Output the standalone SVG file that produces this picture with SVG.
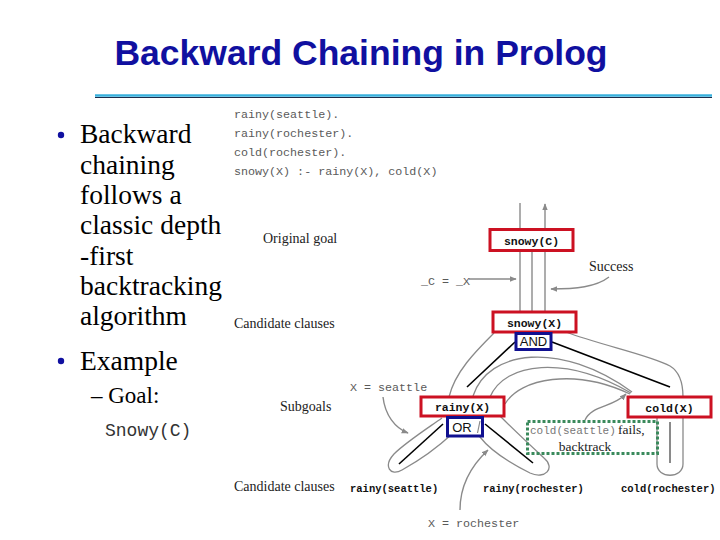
<svg xmlns="http://www.w3.org/2000/svg" width="720" height="540" viewBox="0 0 720 540">
<defs>
<marker id="ah" viewBox="0 0 10 10" refX="9" refY="5" markerWidth="7" markerHeight="7" orient="auto-start-reverse" markerUnits="userSpaceOnUse">
<path d="M0,1 L10,5 L0,9 Z" fill="#8a8a8a"/>
</marker>
<style>
.title{font-family:"Liberation Sans",Arial,sans-serif;font-weight:bold;font-size:35.5px;fill:#1010a0}
.bul{font-family:"Liberation Serif","Times New Roman",serif;font-size:27.5px;fill:#000}
.sub{font-family:"Liberation Serif","Times New Roman",serif;font-size:23px;fill:#000}
.code{font-family:"Liberation Mono","Courier New",monospace;font-size:11.7px;fill:#5a5a5a}
.lbl{font-family:"Liberation Serif","Times New Roman",serif;font-size:14px;fill:#222}
.tt{font-family:"Liberation Mono","Courier New",monospace;font-weight:bold;font-size:11.5px;fill:#111}
.cl{font-family:"Liberation Mono","Courier New",monospace;font-weight:bold;font-size:10.5px;fill:#111}
.redbox{fill:#fff;stroke:#cc1122;stroke-width:3}
.bluebox{fill:#fff;stroke:#101090;stroke-width:3}
.op{font-family:"Liberation Sans",Arial,sans-serif;font-size:13px;fill:#111}
.trace{fill:none;stroke:#8a8a8a;stroke-width:1.3}
.edge{fill:none;stroke:#000;stroke-width:1.6}
.arr{fill:none;stroke:#8a8a8a;stroke-width:1.4}
</style>
</defs>
<rect width="720" height="540" fill="#fff"/>

<g id="title">
<text class="title" x="361" y="65" text-anchor="middle">Backward Chaining in Prolog</text>
<line x1="95" y1="95.5" x2="712" y2="95.5" stroke="#38b0dc" stroke-width="2.5"/>
<line x1="95" y1="97.5" x2="712" y2="97.5" stroke="#1c2c4c" stroke-width="1"/>
</g>

<g id="bullets">
<circle cx="61" cy="135" r="3.2" fill="#1010a0"/>
<text class="bul" x="80" y="143">Backward</text>
<text class="bul" x="80" y="174">chaining</text>
<text class="bul" x="80" y="204">follows a</text>
<text class="bul" x="80" y="234">classic depth</text>
<text class="bul" x="80" y="265">-first</text>
<text class="bul" x="80" y="295">backtracking</text>
<text class="bul" x="80" y="325">algorithm</text>
<circle cx="61" cy="361" r="3.2" fill="#1010a0"/>
<text class="bul" x="80" y="370">Example</text>
<text class="sub" x="91" y="403">– Goal:</text>
<text x="105" y="436" style="font-family:'Liberation Mono','Courier New',monospace;font-size:18px;fill:#333">Snowy(C)</text>
</g>

<g id="program">
<text class="code" x="234" y="118">rainy(seattle).</text>
<text class="code" x="234" y="137">rainy(rochester).</text>
<text class="code" x="234" y="156">cold(rochester).</text>
<text class="code" x="234" y="175">snowy(X) :- rainy(X), cold(X)</text>
</g>

<g id="row-labels">
<text class="lbl" x="263" y="243">Original goal</text>
<text class="lbl" x="234" y="328">Candidate clauses</text>
<text class="lbl" x="280" y="411">Subgoals</text>
<text class="lbl" x="234" y="491">Candidate clauses</text>
<text class="lbl" x="589" y="271">Success</text>
</g>

<g id="connectors">
<line class="arr" x1="520" y1="203" x2="520" y2="229"/>
<line class="arr" x1="545" y1="229" x2="545" y2="204" marker-end="url(#ah)"/>
<line class="arr" x1="520" y1="251" x2="520" y2="312"/>
<line class="arr" x1="532" y1="251" x2="532" y2="312"/>
<line class="arr" x1="545" y1="251" x2="545" y2="312"/>
<line class="arr" x1="469" y1="279" x2="516" y2="279" marker-end="url(#ah)"/>
<path class="arr" d="M609,277 C596,287 576,289 551,289" marker-end="url(#ah)"/>

<path class="trace" d="M494,333 C475,352 455,372 449,397"/>
<path class="trace" d="M442,418 C425,430 405,443 394,454 C383,466 390,477 402,470 C420,460 438,447 452,434 C462,428 472,428 480,437 C490,450 510,463 530,473 C545,480 556,468 544,458 C530,445 512,428 500,416"/>
<path class="trace" d="M473,396 C488,350 560,340 632,392"/>
<path class="trace" d="M490,397 C505,362 565,355 631,393"/>
<path class="trace" d="M505,404 C520,378 575,368 630,394"/>
<path class="trace" d="M566,332 C600,345 650,355 670,366 C680,372 683,385 683,397"/>
<path class="trace" d="M683,417 L683,464 C683,479 657,479 657,464 L657,417"/>
<line x1="670" y1="422" x2="670" y2="463" stroke="#8a8a8a" stroke-width="2"/>

<line class="edge" x1="515" y1="342" x2="467" y2="387"/>
<line class="edge" x1="552" y1="342" x2="670" y2="387"/>
<line class="edge" x1="443" y1="424" x2="399" y2="464"/>
<line class="edge" x1="485" y1="424" x2="533" y2="463"/>

<path class="arr" d="M383,397 C385,415 395,428 408,433" marker-end="url(#ah)"/>
<path class="arr" d="M460,510 C460,485 472,465 488,450" marker-end="url(#ah)"/>
<path class="arr" d="M585,420 C592,405 612,408 626,394" marker-end="url(#ah)"/>
</g>

<g id="node-snowyC">
<rect class="redbox" x="490" y="229.5" width="83" height="21"/>
<text class="tt" x="531.5" y="244.5" text-anchor="middle">snowy(C)</text>
</g>
<g id="node-snowyX">
<rect class="redbox" x="493" y="312" width="83" height="20"/>
<text class="tt" x="534.5" y="326.5" text-anchor="middle">snowy(X)</text>
</g>
<g id="node-and">
<rect class="bluebox" x="516" y="333.5" width="35" height="16"/>
<text class="op" x="533.5" y="346" text-anchor="middle">AND</text>
</g>
<g id="node-rainyX">
<rect class="redbox" x="421" y="397" width="83" height="19"/>
<text class="tt" x="462.5" y="411" text-anchor="middle">rainy(X)</text>
</g>
<g id="node-or">
<rect class="bluebox" x="447.5" y="417.5" width="35" height="18.5"/>
<text class="op" x="462" y="431.5" text-anchor="middle">OR</text>
<line x1="477.5" y1="433" x2="480" y2="421" stroke="#8a8a8a" stroke-width="1.2"/>
</g>
<g id="node-coldX">
<rect class="redbox" x="628" y="397" width="83" height="20"/>
<text class="tt" x="669.5" y="411.5" text-anchor="middle">cold(X)</text>
</g>
<g id="note-fails">
<rect x="527.5" y="421.5" width="130" height="32" fill="none" stroke="#3a8a5c" stroke-width="3" stroke-dasharray="3,2"/>
<text x="530" y="434" style="font-family:'Liberation Mono','Courier New',monospace;font-size:11px;fill:#777">cold(seattle)</text>
<text x="618" y="434" style="font-family:'Liberation Serif','Times New Roman',serif;font-size:13.5px;fill:#222">fails,</text>
<text x="585" y="451" text-anchor="middle" style="font-family:'Liberation Serif','Times New Roman',serif;font-size:13.5px;fill:#222">backtrack</text>
</g>

<g id="clauses">
<text class="cl" x="350" y="492">rainy(seattle)</text>
<text class="cl" x="483" y="492">rainy(rochester)</text>
<text class="cl" x="621" y="492">cold(rochester)</text>
</g>

<g id="bindings">
<text class="code" x="421" y="285">_C = _X</text>
<text class="code" x="350" y="391">X = seattle</text>
<text class="code" x="428" y="527">X = rochester</text>
</g>
</svg>
